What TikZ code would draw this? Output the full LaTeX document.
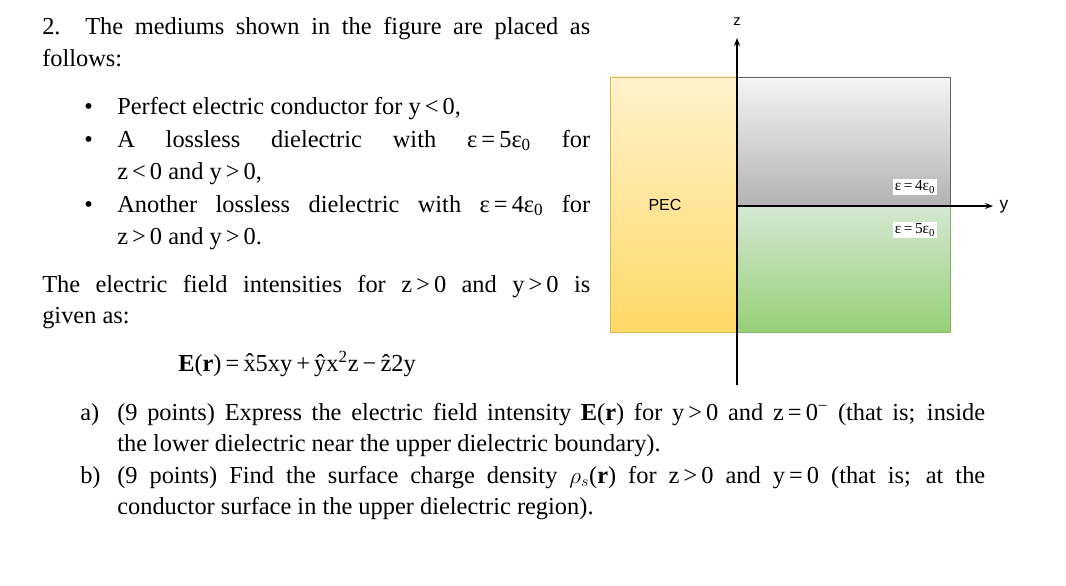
\documentclass[tikz,border=0pt]{standalone}
\usepackage{fontspec}
\setmainfont{Liberation Serif}
\setsansfont{Liberation Sans}
\usetikzlibrary{arrows.meta}
\newcommand{\op}[1]{\,#1\,}
\begin{document}
\begin{tikzpicture}[x=0.75pt,y=-0.75pt,
  txt/.style={anchor=base west,inner sep=0pt,font=\fontsize{18.3}{22}\selectfont},
  lab/.style={fill=white,inner sep=1.5pt,font=\fontsize{11.5}{13}\selectfont},
  ax/.style={-{Stealth[length=6pt]},line width=0.8pt}]
\useasboundingbox (0,0) rectangle (1066,585);
\fill[white] (0,0) rectangle (1066,585);
% figure
\shade[top color={rgb,255:red,255;green,242;blue,204},bottom color={rgb,255:red,255;green,217;blue,102}] (610,77) rectangle (737,332);
\draw[draw={rgb,255:red,214;green,182;blue,86}] (610,77) rectangle (737,332);
\shade[top color={rgb,255:red,245;green,245;blue,245},bottom color={rgb,255:red,179;green,179;blue,179}] (737,77) rectangle (950,205);
\draw[draw={rgb,255:red,102;green,102;blue,102}] (737,205) -- (737,77) -- (950,77) -- (950,205);
\shade[top color={rgb,255:red,213;green,232;blue,212},bottom color={rgb,255:red,151;green,208;blue,119}] (737,205) rectangle (950,332);
\draw[draw={rgb,255:red,130;green,179;blue,102}] (737,205) -- (737,332) -- (950,332) -- (950,205);
\node[font=\sffamily\fontsize{12}{14}\selectfont] (pec) at (665,205) {PEC};
\node[lab] (e4) at (915,187) {ε\op{=}4ε\textsubscript{0}};
\node[lab] (e5) at (915,230) {ε\op{=}5ε\textsubscript{0}};
\coordinate (o1) at (737,385); \coordinate (zt) at (737,38);
\coordinate (o2) at (737,206); \coordinate (yt) at (993,206);
\draw[ax] (o1) -- (zt);
\draw[ax] (o2) -- (yt);
\node[font=\sffamily\fontsize{11}{13}\selectfont] (zl) at (737,22) {z};
\node[font=\sffamily\fontsize{13}{15}\selectfont] (yl) at (1004,207) {y};
% text
\node[txt] (l1) at (42,35) {\makebox[411pt][s]{2. The mediums shown in the figure are placed as}};
\node[txt] (l2) at (42,66) {follows:};
\node[txt] (b1) at (84,114) {•};
\node[txt] (b2) at (84,147) {•};
\node[txt] (b3) at (84,212) {•};
\node[txt] (t1) at (117,114) {Perfect electric conductor for y\op{<}0,};
\node[txt] (t2) at (117,147) {\makebox[354.75pt][s]{A lossless dielectric with ε\op{=}5ε\textsubscript{0} for}};
\node[txt] (t3) at (117,179) {z\op{<}0 and y\op{>}0,};
\node[txt] (t4) at (117,212) {\makebox[354.75pt][s]{Another lossless dielectric with ε\op{=}4ε\textsubscript{0} for}};
\node[txt] (t5) at (117,244) {z\op{>}0 and y\op{>}0.};
\node[txt] (p1) at (42,292) {\makebox[411pt][s]{The electric field intensities for z\op{>}0 and y\op{>}0 is}};
\node[txt] (p2) at (42,323) {given as:};
\node[txt] (eq) at (178,371) {\textbf{E}(\textbf{r})\op{=}\^{x}5xy\op{+}\^{y}x\textsuperscript{2}z\op{−}\^{z}2y};
\node[txt] (a0) at (80,420) {a)};
\node[txt] (a1) at (117,420) {\makebox[651pt][s]{(9 points) Express the electric field intensity \textbf{E}(\textbf{r}) for y\op{>}0 and z\op{=}0\textsuperscript{−} (that is; inside}};
\node[txt] (a2) at (117,451) {the lower dielectric near the upper dielectric boundary).};
\node[txt] (bb0) at (80,483) {b)};
\node[txt] (bb1) at (117,483) {\makebox[651pt][s]{(9 points) Find the surface charge density $\rho_s$(\textbf{r}) for z\op{>}0 and y\op{=}0 (that is; at the}};
\node[txt] (bb2) at (117,514) {conductor surface in the upper dielectric region).};
\end{tikzpicture}
\end{document}
